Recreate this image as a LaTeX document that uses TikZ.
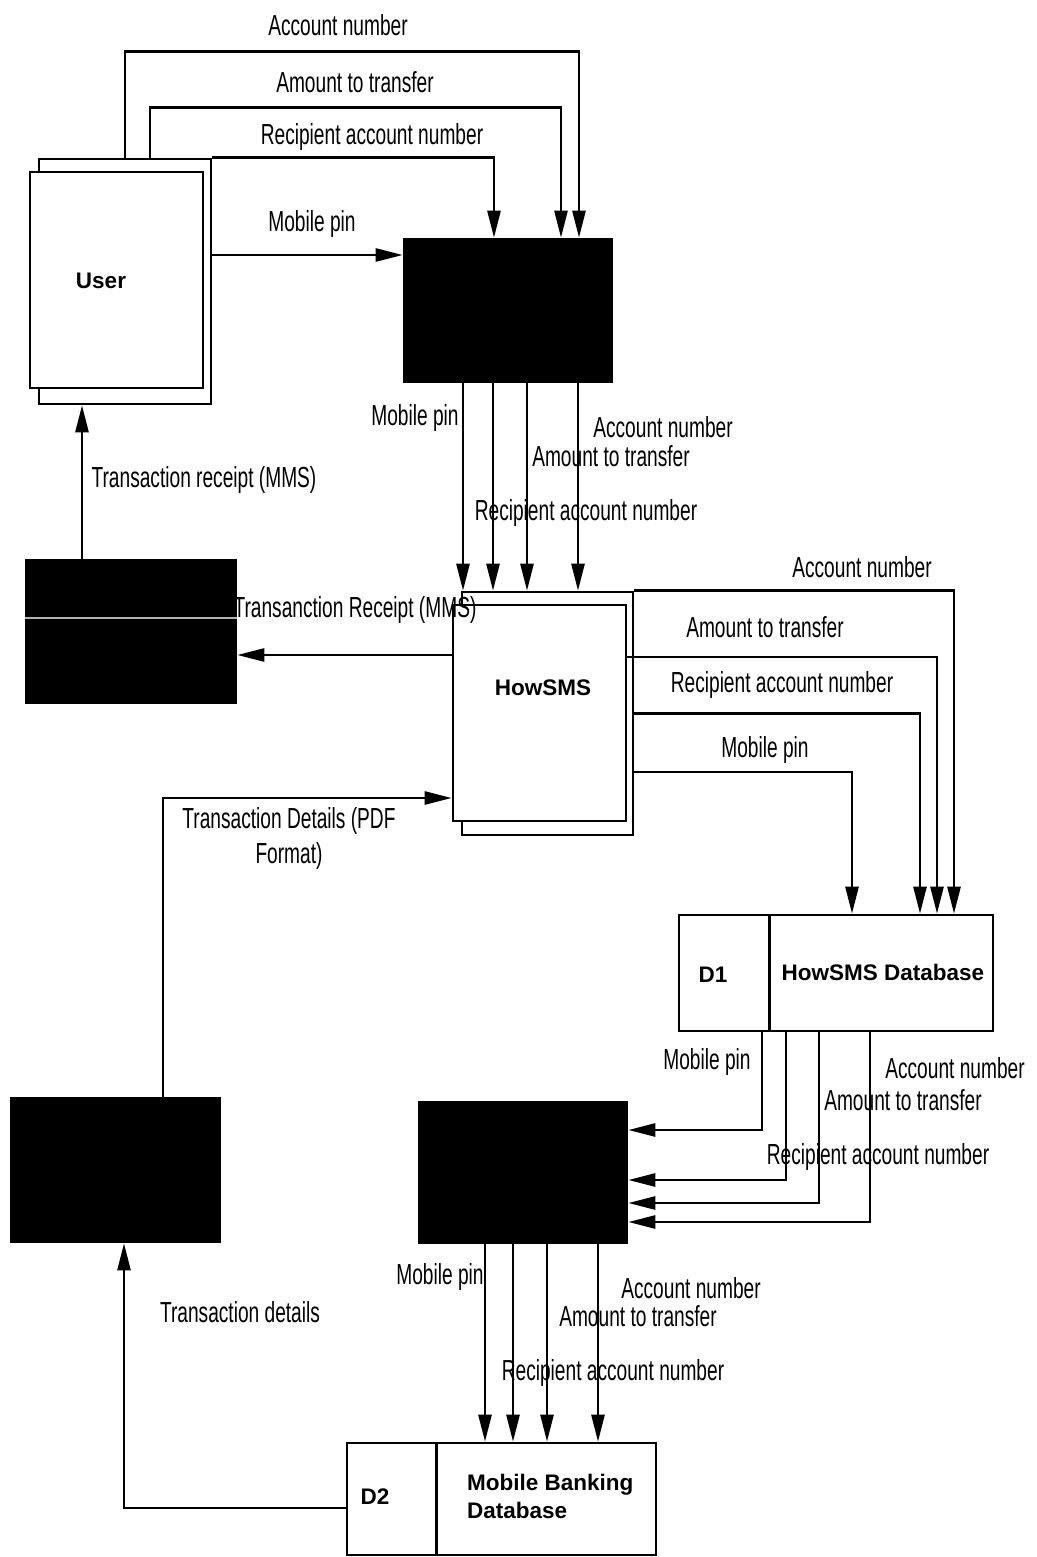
\documentclass[tikz,border=0pt]{standalone}
\usepackage{fontspec}
\setmainfont{Liberation Sans}
\newfontfamily\narrowfont[FakeStretch=0.66]{Liberation Sans}
\usetikzlibrary{arrows.meta}
\begin{document}
\begin{tikzpicture}[x=1pt,y=-1pt,
  box/.style={draw,line width=2.6pt,inner sep=0pt},
  proc/.style={box,fill=black},
  flow/.style={line width=2.6pt,-{Triangle[length=27pt,width=13pt]}},
  lbl/.style={font=\narrowfont\fontsize{29}{35}\selectfont,inner sep=0pt,align=center},
  bold/.style={font=\bfseries\fontsize{22.5}{28}\selectfont,inner sep=0pt}]
\useasboundingbox (0,0) rectangle (1036,1557);

% ---- nodes ----
\node[box,minimum width=172,minimum height=245] (userB) at (125,281.5) {};
\node[box,fill=white,minimum width=173,minimum height=216] (userF) at (116.5,280) {};
\node[bold] (userT) at (101,281) {User};

\node[proc,minimum width=208,minimum height=143] (P1) at (508,310.5) {};
\node[proc,minimum width=210,minimum height=143] (P3) at (131,631.5) {};
\draw[gray!60,line width=1.5pt] ([yshift=13.5]P3.west) -- ([yshift=13.5]P3.east);

\node[box,minimum width=171,minimum height=243] (howB) at (547.5,713.5) {};
\node[box,fill=white,minimum width=173,minimum height=216] (howF) at (539.5,713) {};
\node[bold] (howT) at (543,688) {HowSMS};

\node[box,minimum width=314,minimum height=116] (D1) at (836,973) {};
\draw[line width=2.6pt] ([xshift=92]D1.north west) -- ([xshift=92]D1.south west);
\node[bold] (D1id) at (713,975) {D1};
\node[bold] (D1T) at (883,972) {HowSMS Database};

\node[proc,minimum width=208,minimum height=141] (P2) at (523,1172.5) {};
\node[proc,minimum width=209,minimum height=144] (P4) at (115.5,1170) {};

\node[box,minimum width=309,minimum height=112] (D2) at (501.5,1499) {};
\draw[line width=2.6pt] ([xshift=91]D2.north west) -- ([xshift=91]D2.south west);
\node[bold] (D2id) at (375,1497) {D2};
\node[bold,align=left,anchor=west] (D2T) at (467,1496) {Mobile Banking\\Database};

% ---- connectors: User -> P1 ----
\draw[flow] (userB.north) -- ++(0,-106) -| ([xshift=71]P1.north);
\draw[flow] ([xshift=25]userB.north) -- ++(0,-50) -| ([xshift=53]P1.north);
\draw[flow] (userB.north east) -| ([xshift=-14]P1.north);
\draw[flow] ([yshift=26.5]userB.east) -- ([yshift=26.5]userB.east -| P1.west);

% ---- P1 -> HowSMS ----
\foreach \s in {-45,-15,19,70}
  \draw[flow] ([xshift=\s]P1.south) -- ([xshift=\s]P1.south |- howB.north);

% ---- P3 -> User, HowSMS -> P3 ----
\draw[flow] ([xshift=-49]P3.north) -- ([xshift=-49]P3.north |- userB.south);
\draw[flow] ([yshift=58]howF.west) -- ([yshift=58]howF.west -| P3.east);

% ---- P4 -> HowSMS ----
\draw[flow] ([xshift=47.5]P4.north) |- ([yshift=-85]howF.west);

% ---- HowSMS -> D1 ----
\draw[flow] (howB.north east) -| ([xshift=118]D1.north);
\draw[flow] ([yshift=56]howF.east) -| ([xshift=101]D1.north);
\draw[flow] (howB.east) -| ([xshift=84]D1.north);
\draw[flow] ([yshift=-58.5]howB.east) -| ([xshift=16]D1.north);

% ---- D1 -> P2 ----
\draw[flow] ([xshift=-74]D1.south) |- ([yshift=42.5]P2.east);
\draw[flow] ([xshift=-50]D1.south) |- ([yshift=-7.5]P2.east);
\draw[flow] ([xshift=-17]D1.south) |- ([yshift=-30.5]P2.east);
\draw[flow] ([xshift=34]D1.south) |- ([yshift=-49.5]P2.east);

% ---- P2 -> D2 ----
\foreach \s in {-38,-10,24,75}
  \draw[flow] ([xshift=\s]P2.south) -- ([xshift=\s]P2.south |- D2.north);

% ---- D2 -> P4 ----
\draw[flow] ([yshift=-9]D2.west) -| ([xshift=8.5]P4.south);

% ---- labels ----
\node[lbl] (l1) at (338,25) {Account number};
\node[lbl] (l2) at (355,82) {Amount to transfer};
\node[lbl] (l3) at (372,137) {Recipient account number};
\node[lbl] (l4) at (312,224) {Mobile pin};

\node[lbl] (m1) at (415,418) {Mobile pin};
\node[lbl] (m2) at (663,427) {Account number};
\node[lbl] (m3) at (611,456) {Amount to transfer};
\node[lbl] (m4) at (586,513) {Recipient account number};

\node[lbl] (t1) at (204,480) {Transaction receipt (MMS)};
\node[lbl] (t2) at (355,610) {Transanction Receipt (MMS)};
\node[lbl] (t3) at (289,838) {Transaction Details (PDF\\Format)};

\node[lbl] (r1) at (862,567) {Account number};
\node[lbl] (r2) at (765,627) {Amount to transfer};
\node[lbl] (r3) at (782,685) {Recipient account number};
\node[lbl] (r4) at (765,750) {Mobile pin};

\node[lbl] (d1) at (707,1062) {Mobile pin};
\node[lbl] (d2) at (955,1068) {Account number};
\node[lbl] (d3) at (903,1100) {Amount to transfer};
\node[lbl] (d4) at (878,1157) {Recipient account number};

\node[lbl] (b1) at (440,1277) {Mobile pin};
\node[lbl] (b2) at (691,1288) {Account number};
\node[lbl] (b3) at (638,1316) {Amount to transfer};
\node[lbl] (b4) at (613,1373) {Recipient account number};

\node[lbl] (td) at (240,1312) {Transaction details};
\end{tikzpicture}
\end{document}
